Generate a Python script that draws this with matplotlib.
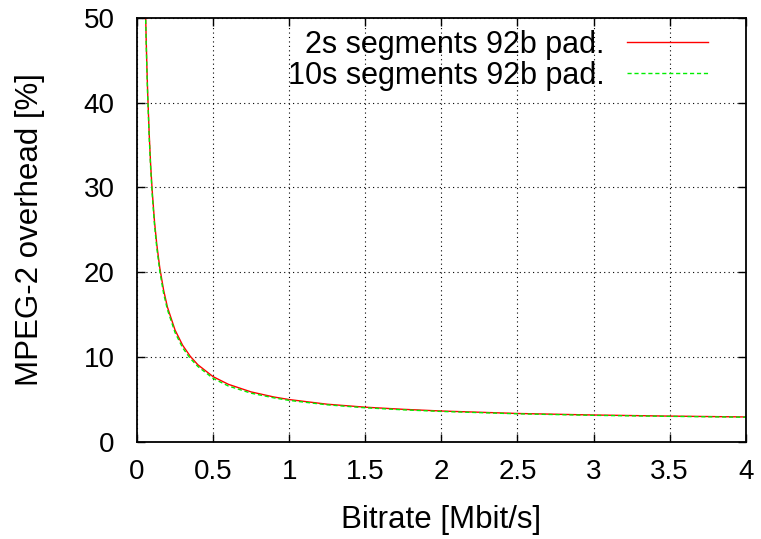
import matplotlib.pyplot as plt
import matplotlib

matplotlib.rcParams["font.family"] = ["Liberation Sans", "DejaVu Sans"]

# bitrate [Mbit/s] and overhead [%]
bitrate = [0.045, 0.05, 0.055, 0.06, 0.065, 0.07, 0.08, 0.09, 0.1, 0.115, 0.13,
           0.15, 0.175, 0.2, 0.25, 0.3, 0.35, 0.4, 0.5, 0.6, 0.75, 0.9,
           1.0, 1.25, 1.5, 1.75, 2.0, 2.5, 3.0, 3.5, 4.0]
overhead_2s = [63.0, 56.9, 51.9, 47.8, 44.3, 41.3, 36.4, 32.6, 29.6, 26.0, 23.3,
               20.5, 17.9, 15.9, 13.2, 11.4, 10.1, 9.1, 7.7, 6.8, 5.9, 5.3,
               5.0, 4.45, 4.1, 3.85, 3.65, 3.36, 3.18, 3.05, 2.95]
overhead_10s = [62.6, 56.5, 51.5, 47.4, 43.9, 40.9, 36.0, 32.2, 29.2, 25.6, 22.9,
                20.1, 17.5, 15.6, 12.9, 11.1, 9.85, 8.9, 7.5, 6.6, 5.75, 5.2,
                4.9, 4.38, 4.03, 3.79, 3.6, 3.32, 3.14, 3.02, 2.92]

fig = plt.figure(figsize=(7.61, 5.39), dpi=100)
ax = fig.add_axes([0.18, 0.18, 0.80, 0.787])

ax.plot(bitrate, overhead_2s, color="#ff0000", lw=1.0, label="2s segments 92b pad.")
ax.plot(bitrate, overhead_10s, color="#00ee00", lw=1.0, ls=(0, (3, 2)),
        label="10s segments 92b pad.")

ax.set_xlim(0, 4)
ax.set_ylim(0, 50)
ax.set_xticks([0, 0.5, 1, 1.5, 2, 2.5, 3, 3.5, 4])
ax.set_xticklabels(["0", "0.5", "1", "1.5", "2", "2.5", "3", "3.5", "4"])
ax.set_yticks([0, 10, 20, 30, 40, 50])
ax.tick_params(direction="in", top=True, right=True, length=6, width=1,
               labelsize=20)
ax.tick_params(axis="x", pad=12)
ax.tick_params(axis="y", pad=16)
ax.grid(True, color="black", ls=(0, (1, 3)), lw=0.8)
for s in ax.spines.values():
    s.set_linewidth(1.3)

ax.set_xlabel("Bitrate [Mbit/s]", fontsize=22.5, labelpad=15)
ax.set_ylabel("MPEG-2 overhead [%]", fontsize=22.5, labelpad=28)

leg = ax.legend(loc="upper right", bbox_to_anchor=(0.9376, 0.972),
                frameon=False, fontsize=22, markerfirst=False,
                handlelength=2.65, handletextpad=0.72, labelspacing=0.05,
                borderpad=0, borderaxespad=0)
for t in leg.get_texts():
    t.set_ha("right")

plt.savefig("out.png", dpi=100)
